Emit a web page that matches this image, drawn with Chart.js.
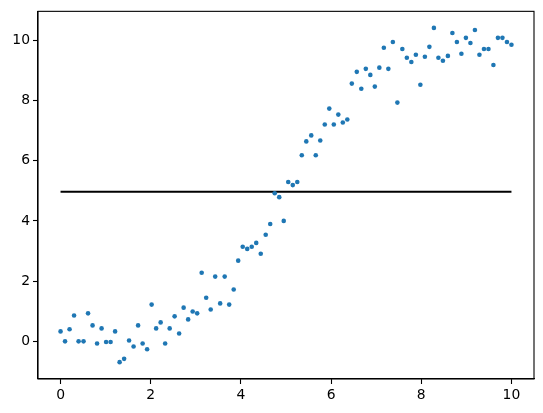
<!DOCTYPE html>
<html>
<head>
<meta charset="utf-8">
<script src="https://cdn.jsdelivr.net/npm/chart.js@4/dist/chart.umd.min.js"></script>
<style>
  html, body { margin: 0; padding: 0; background: #fff; }
  #wrap { width: 543px; height: 413px; }
</style>
</head>
<body>
<div id="wrap"><canvas id="myChart" width="543" height="413"></canvas></div>
<script>
/* data */

const xValues = [
  0.00, 0.10, 0.20, 0.30, 0.40, 0.51, 0.61, 0.71, 0.81, 0.91,
  1.01, 1.11, 1.21, 1.31, 1.41, 1.52, 1.62, 1.72, 1.82, 1.92,
  2.02, 2.12, 2.22, 2.32, 2.42, 2.53, 2.63, 2.73, 2.83, 2.93,
  3.03, 3.13, 3.23, 3.33, 3.43, 3.54, 3.64, 3.74, 3.84, 3.94,
  4.04, 4.14, 4.24, 4.34, 4.44, 4.55, 4.65, 4.75, 4.85, 4.95,
  5.05, 5.15, 5.25, 5.35, 5.45, 5.56, 5.66, 5.76, 5.86, 5.96,
  6.06, 6.16, 6.26, 6.36, 6.46, 6.57, 6.67, 6.77, 6.87, 6.97,
  7.07, 7.17, 7.27, 7.37, 7.47, 7.58, 7.68, 7.78, 7.88, 7.98,
  8.08, 8.18, 8.28, 8.38, 8.48, 8.59, 8.69, 8.79, 8.89, 8.99,
  9.09, 9.19, 9.29, 9.39, 9.49, 9.60, 9.70, 9.80, 9.90, 10.00
];

const yValues = [
  0.33, 0.00, 0.40, 0.86, 0.00, 0.00, 0.93, 0.53, -0.07, 0.43,
  -0.02, -0.02, 0.33, -0.69, -0.58, 0.03, -0.17, 0.53, -0.07, -0.26,
  1.22, 0.43, 0.63, -0.07, 0.43, 0.83, 0.26, 1.12, 0.73, 0.99,
  0.93, 2.28, 1.45, 1.06, 2.15, 1.26, 2.15, 1.22, 1.72, 2.68,
  3.14, 3.07, 3.14, 3.27, 2.91, 3.54, 3.90, 4.92, 4.79, 4.00,
  5.29, 5.19, 5.29, 6.18, 6.64, 6.84, 6.18, 6.67, 7.20, 7.73,
  7.20, 7.53, 7.27, 7.37, 8.56, 8.95, 8.39, 9.05, 8.85, 8.46,
  9.09, 9.75, 9.05, 9.94, 7.93, 9.71, 9.42, 9.28, 9.52, 8.52,
  9.45, 9.78, 10.41, 9.42, 9.32, 9.48, 10.24, 9.94, 9.55, 10.08,
  9.91, 10.34, 9.52, 9.71, 9.71, 9.18, 10.08, 10.08, 9.94, 9.85
];

// horizontal reference line
const lineX = [0, 10];
const lineY = [4.97, 4.97];

const xTicks = [0, 2, 4, 6, 8, 10];
const yTicks = [0, 2, 4, 6, 8, 10];

/* chart */

const ctx = document.getElementById('myChart').getContext('2d');

// matplotlib style box around the axes
const frame = {
  id: 'frame',
  afterDraw(chart) {
    const a = chart.chartArea;
    const c = chart.ctx;
    c.save();
    c.strokeStyle = '#000';
    c.lineWidth = 1.1;
    c.strokeRect(a.left, a.top, a.right - a.left, a.bottom - a.top);
    c.restore();
  }
};

const tickFont = { family: 'DejaVu Sans', size: 13.9 };

const chart = new Chart(ctx, {
  type: 'scatter',
  data: {
    datasets: [{
      data: xValues.map((x, i) => ({ x: x, y: yValues[i] })),
      backgroundColor: '#1f77b4',
      borderWidth: 0,
      pointRadius: 2.3,
      pointHoverRadius: 2.3,
    },
    {
      data: lineX.map((x, i) => ({ x: x, y: lineY[i] })),
      showLine: true,
      borderColor: '#000',
      borderWidth: 2,
      pointRadius: 0,
    }]
  },
  options: {
    responsive: false,
    animation: false,
    plugins: { legend: { display: false }, tooltip: { enabled: false } },
    layout: { padding: { top: 10, right: 9, left: 0, bottom: 0 } },
    scales: {
      x: {
        type: 'linear',
        min: -0.5,
        max: 10.5,
        afterBuildTicks: function (axis) {
          axis.ticks = xTicks.map(v => ({ value: v }));
        },
        afterFit: function (axis) { axis.height = 34; },
        grid: { drawOnChartArea: false, tickLength: 5, color: '#000', tickWidth: 1.1 },
        border: { color: '#000', width: 1.1 },
        ticks: { color: '#000', font: tickFont, padding: 3, maxRotation: 0 }
      },
      y: {
        type: 'linear',
        min: -1.25,
        max: 10.96,
        afterBuildTicks: function (axis) {
          axis.ticks = yTicks.map(v => ({ value: v }));
        },
        afterFit: function (axis) { axis.width = 38; },
        grid: { drawOnChartArea: false, tickLength: 5, color: '#000', tickWidth: 1.1 },
        border: { color: '#000', width: 1.1 },
        ticks: { color: '#000', font: tickFont, padding: 3 }
      }
    }
  },
  plugins: [frame]
});
</script>
</body>
</html>
